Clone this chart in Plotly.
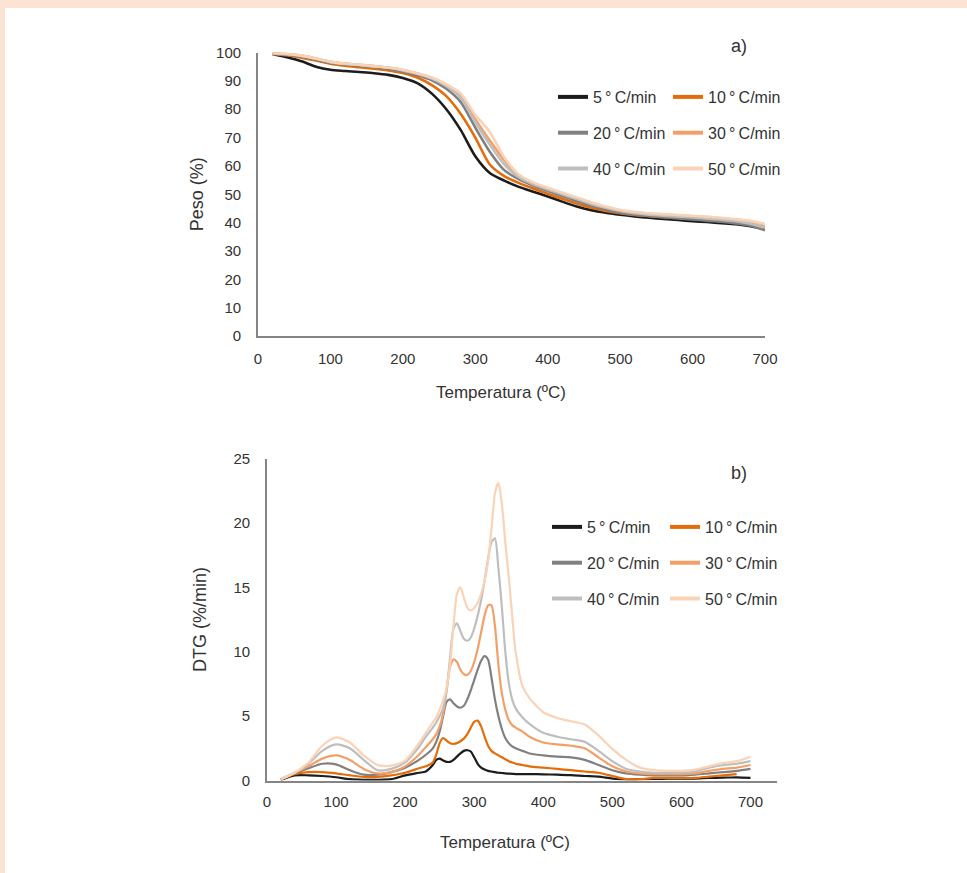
import plotly.graph_objects as go

# ---------------- data ----------------
rate_labels = ["5\u2009°\u2009C/min", "10\u2009°\u2009C/min", "20\u2009°\u2009C/min",
               "30\u2009°\u2009C/min", "40\u2009°\u2009C/min", "50\u2009°\u2009C/min"]
rate_colors = ["#1c1c1c", "#E46C0A", "#808080", "#F2A068", "#BEBEBE", "#FAD3B6"]

temp_tga = [20, 40, 60, 80, 100, 120, 140, 160, 180, 200, 220, 240, 260, 280, 300, 320, 340,
            360, 380, 400, 420, 440, 460, 480, 500, 520, 540, 560, 580, 600, 620, 640, 660, 680, 700]

tga_5 = [99.5, 98.3, 96.9, 95.0, 93.9, 93.5, 93.1, 92.7, 92.1, 91.0, 89.2, 85.5, 80.0, 72.6, 63.4, 57.5, 54.8,
         52.6, 50.9, 49.2, 47.4, 45.7, 44.4, 43.5, 42.8, 42.2, 41.7, 41.3, 40.9, 40.5, 40.2, 39.8, 39.4, 38.7, 37.6]
tga_10 = [99.5, 99.0, 98.2, 97.2, 96.0, 95.3, 94.8, 94.3, 93.7, 92.8, 91.2, 88.5, 84.6, 78.3, 70.0, 60.5, 56.4,
          54.0, 52.0, 50.2, 48.4, 46.7, 45.2, 44.1, 43.3, 42.7, 42.3, 41.9, 41.6, 41.3, 41.0, 40.6, 40.1, 39.5, 38.3]
tga_20 = [99.6, 99.2, 98.5, 97.5, 96.3, 95.8, 95.3, 94.8, 94.2, 93.2, 92.0, 90.2, 87.2, 82.5, 73.5, 65.0, 58.5,
          55.3, 53.0, 51.2, 49.4, 47.6, 46.0, 44.6, 43.5, 42.8, 42.3, 41.9, 41.5, 41.1, 40.7, 40.3, 39.7, 38.9, 37.3]
tga_30 = [99.8, 99.5, 98.9, 97.9, 96.7, 96.1, 95.7, 95.2, 94.7, 93.8, 92.6, 91.0, 88.5, 84.8, 76.5, 69.0, 62.0,
          56.5, 53.8, 52.0, 50.4, 48.7, 47.0, 45.5, 44.3, 43.6, 43.1, 42.8, 42.5, 42.2, 41.9, 41.5, 41.0, 40.4, 39.3]
tga_40 = [99.7, 99.4, 98.8, 97.8, 96.6, 96.0, 95.6, 95.1, 94.6, 93.7, 92.5, 90.8, 88.2, 84.0, 75.5, 67.5, 60.5,
          56.0, 53.5, 51.7, 50.0, 48.3, 46.6, 45.2, 44.1, 43.3, 42.8, 42.4, 42.1, 41.8, 41.4, 41.0, 40.5, 39.6, 38.2]
tga_50 = [99.8, 99.5, 98.9, 97.9, 96.7, 96.1, 95.7, 95.2, 94.7, 93.9, 92.7, 91.2, 88.8, 85.5, 78.0, 72.0, 63.0,
          57.0, 54.2, 52.3, 50.6, 48.9, 47.2, 45.7, 44.5, 43.8, 43.3, 43.0, 42.7, 42.4, 42.1, 41.7, 41.2, 40.6, 39.5]

temp_dtg = [20, 40, 60, 80, 100, 120, 140, 160, 180, 200, 220, 230,
            240, 245, 250, 255, 260, 265, 270, 275, 280, 285, 290, 295, 300, 305, 310, 315, 320,
            325, 330, 335, 340, 345, 350, 355, 360, 370, 380,
            400, 420, 440, 460, 480, 500, 520, 540, 560, 580, 600, 620, 640, 660, 680, 700]

dtg_5 = [0.05, 0.4, 0.4, 0.35, 0.25, 0.1, 0.05, 0.05, 0.1, 0.4, 0.6, 0.7,
         1.2, 1.6, 1.7, 1.55, 1.45, 1.45, 1.6, 1.85, 2.1, 2.3, 2.35, 2.25, 1.8, 1.3, 1.0, 0.85, 0.75,
         0.7, 0.65, 0.6, 0.58, 0.55, 0.53, 0.52, 0.5, 0.5, 0.5,
         0.48, 0.45, 0.42, 0.35, 0.3, 0.15, 0.08, 0.1, 0.12, 0.15, 0.15, 0.15, 0.2, 0.22, 0.25, 0.2]
dtg_10 = [0.1, 0.5, 0.65, 0.65, 0.55, 0.4, 0.28, 0.28, 0.4, 0.6, 0.95, 1.1,
          1.4, 2.0, 2.9, 3.3, 3.1, 2.9, 2.85, 2.9, 3.05, 3.25, 3.6, 4.1, 4.55, 4.65, 4.2, 3.4, 2.7,
          2.3, 2.1, 1.95, 1.8, 1.65, 1.5, 1.4, 1.3, 1.2, 1.1,
          1.0, 0.9, 0.8, 0.7, 0.6, 0.35, 0.1, 0.1, 0.2, 0.2, 0.2, 0.2, 0.3, 0.4, 0.5, None]
dtg_20 = [0.1, 0.55, 0.95, 1.3, 1.25, 0.8, 0.45, 0.45, 0.65, 1.0, 1.6, 2.0,
          2.5, 3.0, 3.8, 5.0, 6.1, 6.3, 6.0, 5.75, 5.65, 5.8, 6.3, 7.0, 7.8, 8.6, 9.3, 9.65, 9.4,
          8.0, 6.3, 5.0, 4.0, 3.3, 2.9, 2.65, 2.5, 2.3, 2.1,
          1.95, 1.85, 1.8, 1.6, 1.2, 0.8, 0.55, 0.45, 0.4, 0.4, 0.4, 0.45, 0.55, 0.65, 0.75, 0.9]
dtg_30 = [0.1, 0.6, 1.1, 1.7, 1.95, 1.6, 0.9, 0.55, 0.65, 1.1, 2.0, 2.6,
          3.2, 3.6, 4.2, 5.2, 7.0, 8.8, 9.4, 9.2, 8.6, 8.25, 8.2, 8.5, 9.2, 10.2, 11.5, 12.8, 13.6,
          13.6, 12.0, 9.0, 6.8, 5.5, 4.7, 4.3, 4.1, 3.8, 3.4,
          2.95, 2.8, 2.7, 2.5, 1.8, 1.1, 0.7, 0.55, 0.5, 0.5, 0.5, 0.55, 0.75, 0.9, 1.0, 1.2]
dtg_40 = [0.1, 0.6, 1.3, 2.3, 2.8, 2.5, 1.6, 0.8, 0.9, 1.4, 2.6, 3.4,
          4.1, 4.5, 5.0, 5.6, 7.0, 9.5, 11.8, 12.2, 11.6, 11.0, 10.85, 11.1, 11.8, 12.8, 14.0, 15.5, 17.2,
          18.5, 18.8, 16.5, 13.5, 10.0, 7.6, 6.3, 5.6, 4.9, 4.4,
          3.7, 3.4, 3.2, 3.0, 2.3, 1.5, 0.9, 0.7, 0.6, 0.6, 0.6, 0.7, 1.0, 1.2, 1.3, 1.5]
dtg_50 = [0.1, 0.6, 1.4, 2.7, 3.35, 2.95, 1.95, 1.2, 1.15, 1.55, 2.9, 3.7,
          4.5, 4.9, 5.5, 6.2, 7.2, 9.0, 12.0, 14.5, 15.0, 14.2, 13.4, 13.2, 13.4, 13.8, 14.5, 15.5, 17.0,
          19.5, 22.3, 23.1, 21.5, 18.5, 15.8, 12.8, 10.0, 7.3, 6.4,
          5.3, 4.85, 4.6, 4.35, 3.5, 2.45, 1.6, 1.0, 0.8, 0.75, 0.75, 0.85, 1.1, 1.35, 1.5, 1.85]

x_ticks = [0, 100, 200, 300, 400, 500, 600, 700]
tga_ticks = [0, 10, 20, 30, 40, 50, 60, 70, 80, 90, 100]
dtg_ticks = [0, 5, 10, 15, 20, 25]

# ---------------- figure ----------------
W, H = 967, 873
FONT = "Liberation Sans, Arial, sans-serif"
TXT = "#333333"
AX = "#858585"


def fx(p):
    return p / W


def fy(p):
    return 1 - p / H


tga_series = [tga_5, tga_10, tga_20, tga_30, tga_40, tga_50]
dtg_series = [dtg_5, dtg_10, dtg_20, dtg_30, dtg_40, dtg_50]

fig = go.Figure()

for i, (lab, col, ys) in enumerate(zip(rate_labels, rate_colors, tga_series)):
    grp = f"tga{i}"
    fig.add_trace(go.Scatter(x=temp_tga, y=ys, mode="lines", name=lab,
                             line=dict(color=col, width=2.6, shape="spline", smoothing=0.7),
                             xaxis="x", yaxis="y", showlegend=False, legendgroup=grp,
                             legend="legend" if i % 2 == 0 else "legend2"))
for i, (lab, col) in enumerate(zip(rate_labels, rate_colors)):
    grp = f"tga{i}"
    fig.add_trace(go.Scatter(x=[None], y=[None], mode="lines", name=lab,
                             line=dict(color=col, width=4), xaxis="x", yaxis="y",
                             showlegend=True, legendgroup=grp,
                             legend="legend" if i % 2 == 0 else "legend2"))

for i, (lab, col, ys) in enumerate(zip(rate_labels, rate_colors, dtg_series)):
    grp = f"dtg{i}"
    fig.add_trace(go.Scatter(x=temp_dtg, y=ys, mode="lines", name=lab,
                             line=dict(color=col, width=2.2, shape="spline", smoothing=0.7),
                             xaxis="x2", yaxis="y2", showlegend=False, legendgroup=grp,
                             legend="legend3" if i % 2 == 0 else "legend4"))
for i, (lab, col) in enumerate(zip(rate_labels, rate_colors)):
    grp = f"dtg{i}"
    fig.add_trace(go.Scatter(x=[None], y=[None], mode="lines", name=lab,
                             line=dict(color=col, width=4), xaxis="x2", yaxis="y2",
                             showlegend=True, legendgroup=grp,
                             legend="legend3" if i % 2 == 0 else "legend4"))

axis_common = dict(showgrid=False, zeroline=False, showline=True, linecolor=AX, linewidth=1.8,
                   ticks="", tickfont=dict(family=FONT, size=15, color=TXT), fixedrange=True,
                   automargin=False)

legend_common = dict(orientation="v", xanchor="left", yanchor="top", traceorder="grouped",
                     tracegroupgap=12, bgcolor="rgba(0,0,0,0)", borderwidth=0,
                     font=dict(family=FONT, size=16, color=TXT))

title_font = dict(family=FONT, size=17, color=TXT)
ytitle_font = dict(family=FONT, size=18, color=TXT)

fig.update_layout(
    width=W, height=H, autosize=False,
    margin=dict(l=0, r=0, t=0, b=0, pad=0, autoexpand=False),
    paper_bgcolor="#FCE4D4",
    plot_bgcolor="white",
    font=dict(family=FONT, color=TXT),
    xaxis=dict(domain=[fx(258), fx(765)], range=[0, 700], tickvals=x_ticks,
               ticklabelstandoff=8, anchor="y", **axis_common),
    yaxis=dict(domain=[fy(336), fy(52.5)], range=[0, 100], tickvals=tga_ticks,
               ticklabelstandoff=12, anchor="x",
               title=dict(text="Peso (%)", font=ytitle_font, standoff=8),
               **axis_common),
    xaxis2=dict(domain=[fx(267), fx(777)], range=[0, 738.4], tickvals=x_ticks,
                ticklabelstandoff=7, anchor="y2", **axis_common),
    yaxis2=dict(domain=[fy(780.5), fy(458.5)], range=[0, 25], tickvals=dtg_ticks,
                ticklabelstandoff=12, anchor="x2",
                title=dict(text="DTG (%/min)", font=ytitle_font, standoff=22),
                **axis_common),
    legend=dict(x=fx(553), y=fy(80), **legend_common),
    legend2=dict(x=fx(668), y=fy(80), **legend_common),
    legend3=dict(x=fx(547), y=fy(510), **legend_common),
    legend4=dict(x=fx(665), y=fy(510), **legend_common),
    shapes=[dict(type="rect", xref="paper", yref="paper", x0=fx(5), x1=1, y0=0, y1=fy(8),
                 fillcolor="white", line=dict(width=0), layer="below")],
    annotations=[
        dict(text="a)", x=fx(739), y=fy(46), xref="paper", yref="paper", showarrow=False,
             xanchor="center", yanchor="middle", font=dict(family=FONT, size=18, color=TXT)),
        dict(text="b)", x=fx(739), y=fy(473), xref="paper", yref="paper", showarrow=False,
             xanchor="center", yanchor="middle", font=dict(family=FONT, size=18, color=TXT)),
        dict(text="Temperatura (ºC)", x=fx(501), y=fy(393), xref="paper", yref="paper",
             xanchor="center", yanchor="middle", showarrow=False, font=title_font),
        dict(text="Temperatura (ºC)", x=fx(505), y=fy(842), xref="paper", yref="paper",
             xanchor="center", yanchor="middle", showarrow=False, font=title_font),
    ],
    showlegend=True,
)

fig.write_html("out.html", config={"displayModeBar": False, "responsive": False},
               post_script="document.body.style.margin='0';document.body.style.overflow='hidden';")
